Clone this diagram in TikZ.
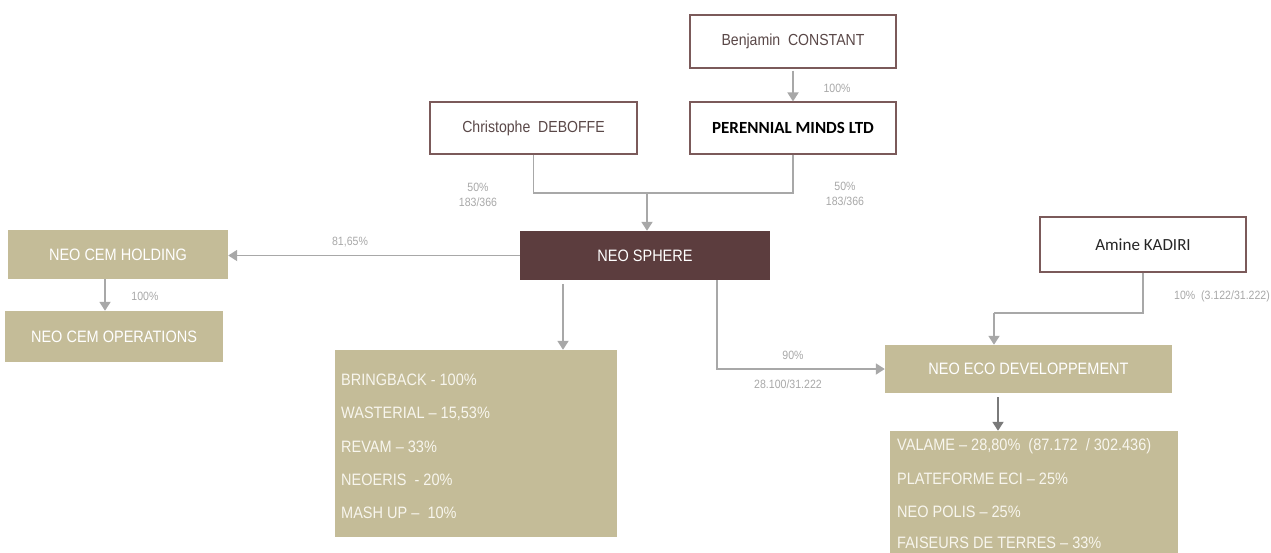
\documentclass[tikz,border=0pt]{standalone}
\usepackage{fontspec}
\usetikzlibrary{arrows.meta,calc}
\newfontfamily\nar[FakeStretch=0.88,Ligatures=TeX]{Liberation Sans}
\newfontfamily\carlitofont{Carlito}
\definecolor{tan}{HTML}{C4BC98}
\definecolor{sphc}{HTML}{5C3D3E}
\definecolor{bord}{HTML}{7B5A5A}
\definecolor{btxt}{HTML}{5A4848}
\definecolor{lgray}{HTML}{A8A8A8}
\definecolor{dgray}{HTML}{7A7A7A}
\definecolor{ltxt}{HTML}{F8F6EE}
\tikzset{
  whitebox/.style={draw=bord,line width=1.1pt,fill=white,minimum width=#1,inner sep=0pt,text=btxt,font=\nar\fontsize{16}{18}\selectfont},
  tanbox/.style={fill=tan,inner sep=0pt,text=white,font=\nar\fontsize{16.5}{19}\selectfont},
  arr/.style={draw=lgray,line width=1.8pt,-{Triangle[width=11pt,length=9pt]}},
  ln/.style={draw=lgray,line width=1.8pt},
  lbl/.style={text=lgray,font=\nar\fontsize{12}{15}\selectfont,inner sep=0pt,align=center},
  itm/.style={anchor=base west,inner sep=0pt,text=ltxt,font=\nar\fontsize{16.5}{19}\selectfont}
}
\begin{document}
\begin{tikzpicture}[x=1pt,y=-1pt]
\useasboundingbox (0,0) rectangle (1271,552);
\clip (0,0) rectangle (1271,552);
% boxes
\node[whitebox=206pt,minimum height=53pt] (ben) at (793,41.5) {Benjamin\ \ CONSTANT};
\node[whitebox=206pt,minimum height=52pt,text=black,font=\carlitofont\bfseries\fontsize{17}{19}\selectfont] (per) at (793,128) {PERENNIAL MINDS LTD};
\node[whitebox=207pt,minimum height=52pt] (chr) at (533.5,128) {Christophe\ \ DEBOFFE};
\node[fill=sphc,inner sep=0pt,minimum width=250pt,minimum height=49pt,text=white,font=\nar\fontsize{16.5}{19}\selectfont] (sph) at (645,255.5) {NEO SPHERE};
\node[tanbox,minimum width=220pt,minimum height=49pt] (cemh) at (118,254.5) {NEO CEM HOLDING};
\node[tanbox,minimum width=218pt,minimum height=51pt] (cemo) at (114,336.5) {NEO CEM OPERATIONS};
\node[tanbox,minimum width=282pt,minimum height=187pt] (lst) at (476,443.5) {};
\node[whitebox=206pt,minimum height=55pt,text=black!85,font=\carlitofont\fontsize{17}{19}\selectfont] (kad) at (1143,244.5) {Amine KADIRI};
\node[tanbox,minimum width=287pt,minimum height=48pt] (eco) at (1028.5,369) {NEO ECO DEVELOPPEMENT};
\node[tanbox,minimum width=288pt,minimum height=140pt] (val) at (1034,501) {};
% list items
\node[itm] (l1) at (341,385) {BRINGBACK - 100\%};
\node[itm] (l2) at (341,418.5) {WASTERIAL – 15,53\%};
\node[itm] (l3) at (341,452) {REVAM – 33\%};
\node[itm] (l4) at (341,485) {NEOERIS\ \ - 20\%};
\node[itm] (l5) at (341,518.5) {MASH UP –\ \ 10\%};
\node[itm] (v1) at (897,450) {VALAME – 28,80\%\ \ (87.172\ \ / 302.436)};
\node[itm] (v2) at (897,484) {PLATEFORME ECI – 25\%};
\node[itm] (v3) at (897,517.5) {NEO POLIS – 25\%};
\node[itm] (v4) at (897,548) {FAISEURS DE TERRES – 33\%};
% connectors
\coordinate (s0) at ([yshift=-2pt]ben.south);
\draw[arr] (s0) -- (per.north);
\coordinate (j) at (647,193);
\draw[ln] (chr.south) |- (j);
\draw[ln] (per.south) |- (j);
\draw[arr] (j) -- (j |- sph.north);
\draw[arr] (sph.west) -- (sph.west -| cemh.east);
\coordinate (s1) at ([xshift=-13pt]cemh.south);
\draw[arr] (s1) -- (s1 |- cemo.north);
\coordinate (s2) at ([xshift=-82pt,yshift=-4pt]sph.south);
\draw[arr] (s2) -- (s2 |- lst.north);
\coordinate (s3) at ([xshift=72pt]sph.south);
\draw[arr] (s3) |- (eco.west);
\coordinate (jk) at (994,313);
\draw[ln] (kad.south) |- (jk);
\draw[arr] (jk) -- (jk |- eco.north);
\coordinate (s4) at ([xshift=-30.5pt,yshift=-4pt]eco.south);
\draw[arr,draw=dgray] (s4) -- (s4 |- val.north);
% labels
\node[lbl] (t1) at (837,88) {100\%};
\node[lbl,align=center] (t2) at (478,195) {50\%\\183/366};
\node[lbl,align=center] (t3) at (845,194) {50\%\\183/366};
\node[lbl] (t4) at (350,242) {81,65\%};
\node[lbl] (t5) at (145,296) {100\%};
\node[lbl] (t6) at (793,355) {90\%};
\node[lbl] (t7) at (788,384) {28.100/31.222};
\node[lbl] (t8) at (1222,296) {10\%\ \ (3.122/31.222)};
\end{tikzpicture}
\end{document}
